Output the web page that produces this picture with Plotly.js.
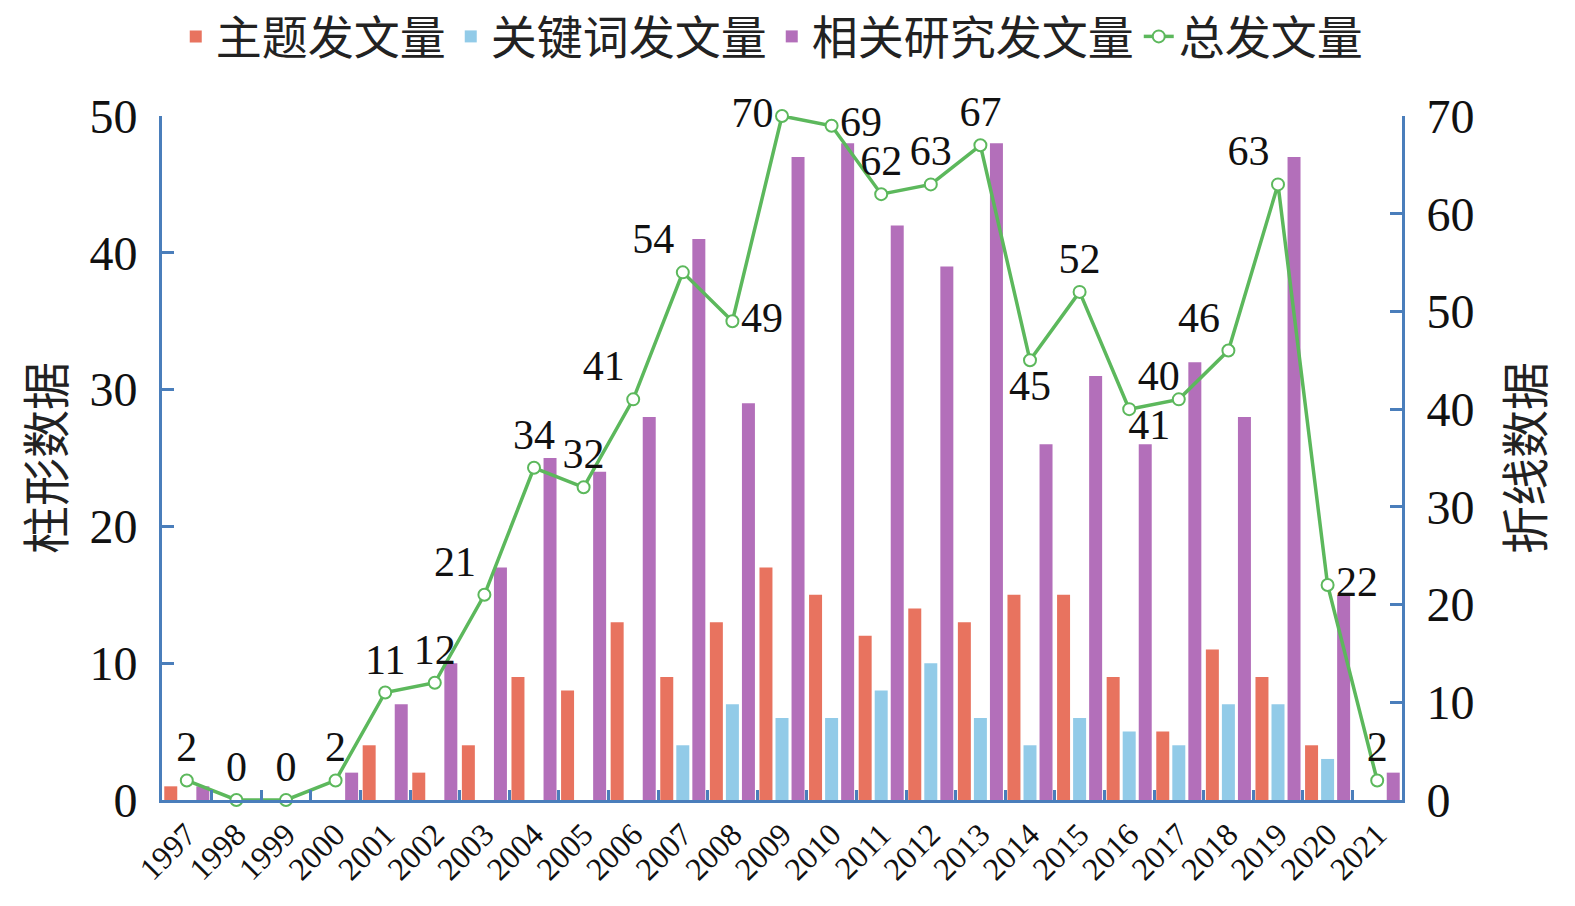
<!DOCTYPE html>
<html>
<head>
<meta charset="utf-8">
<script src="https://cdn.plot.ly/plotly-3.0.1.min.js"></script>
<style>
html, body { margin: 0; padding: 0; background: #fff; }
#chart { width: 1575px; height: 906px; }
</style>
</head>
<body>
<div id="chart"></div>
<script>
var years = ['1997', '1998', '1999', '2000', '2001', '2002', '2003', '2004', '2005', '2006', '2007', '2008', '2009',
  '2010', '2011', '2012', '2013', '2014', '2015', '2016', '2017', '2018', '2019', '2020', '2021'];
var topicCount = [1, 0, 0, 0, 4, 2, 4, 9, 8, 13, 9, 13, 17, 15, 12, 14, 13, 15, 15, 9, 5, 11, 9, 4, 0];
var keywordCount = [0, 0, 0, 0, 0, 0, 0, 0, 0, 0, 4, 7, 6, 6, 8, 10, 6, 4, 6, 5, 4, 7, 7, 3, 0];
var relatedCount = [1, 0, 0, 2, 7, 10, 17, 25, 24, 28, 41, 29, 47, 48, 42, 39, 48, 26, 31, 26, 32, 28, 47, 15, 2];
var totalCount = [2, 0, 0, 2, 11, 12, 21, 34, 32, 41, 54, 49, 70, 69, 62, 63, 67, 45, 52, 40, 41, 46, 63, 22, 2];
var labelPos = ['top center', 'top center', 'top center', 'top center', 'top center', 'top center', 'top left',
  'top center', 'top center', 'top left', 'top left', 'middle right', 'middle left', 'middle right',
  'top center', 'top center', 'top center', 'bottom center', 'top center', 'top right', 'bottom left',
  'top left', 'top left', 'middle right', 'top center'];

var axisColor = '#4a7ebb';
var serif = 'Liberation Serif, Times New Roman, serif';
var cjk = 'Noto Sans CJK SC, sans-serif';

var data = [
  {
    x: years, y: topicCount, type: 'bar', name: '主题发文量',
    marker: {color: '#e8735f'}
  },
  {
    x: years, y: keywordCount, type: 'bar', name: '关键词发文量',
    marker: {color: '#92cbe8'}
  },
  {
    x: years, y: relatedCount, type: 'bar', name: '相关研究发文量',
    marker: {color: '#b36fba'}
  },
  {
    x: years, y: totalCount, type: 'scatter', name: '总发文量', yaxis: 'y2',
    mode: 'lines+markers+text',
    text: totalCount.map(String),
    textposition: labelPos,
    textfont: {family: serif, size: 42, color: '#111'},
    line: {color: '#5cb85c', width: 3.5},
    marker: {symbol: 'circle', size: 12, color: '#fff', line: {color: '#5cb85c', width: 2}},
    cliponaxis: false
  }
];

var layout = {
  width: 1575,
  height: 906,
  margin: {l: 162, r: 173, t: 116, b: 106},
  paper_bgcolor: '#fff',
  plot_bgcolor: '#fff',
  barmode: 'group',
  bargap: 0.03,
  bargroupgap: 0.19,
  showlegend: true,
  legend: {
    orientation: 'h',
    x: 0.49, xref: 'container', xanchor: 'center',
    y: 1, yref: 'container', yanchor: 'top',
    font: {family: cjk, size: 46, color: '#222'},
    itemwidth: 30,
    traceorder: 'normal'
  },
  xaxis: {
    type: 'category',
    range: [-0.5, years.length - 0.5],
    tickangle: -45,
    tickfont: {family: serif, size: 32, color: '#111'},
    showline: true, linecolor: axisColor, linewidth: 3,
    ticks: 'inside', tickson: 'boundaries', ticklen: 10, tickwidth: 3, tickcolor: axisColor,
    showgrid: false, zeroline: false
  },
  yaxis: {
    range: [0, 50], dtick: 10,
    tickfont: {family: serif, size: 48, color: '#111'},
    ticklabelstandoff: 12,
    showline: true, linecolor: axisColor, linewidth: 3,
    ticks: 'inside', ticklen: 12, tickwidth: 3, tickcolor: axisColor,
    showgrid: false, zeroline: false,
    title: {text: '柱形数据', font: {family: cjk, size: 48, color: '#222'}, standoff: 10}
  },
  yaxis2: {
    range: [0, 70], dtick: 10,
    overlaying: 'y', side: 'right',
    tickfont: {family: serif, size: 48, color: '#111'},
    ticklabelstandoff: 12,
    showline: true, linecolor: axisColor, linewidth: 3,
    ticks: 'inside', ticklen: 12, tickwidth: 3, tickcolor: axisColor,
    showgrid: false, zeroline: false,
    title: {text: '折线数据', font: {family: cjk, size: 48, color: '#222'}, standoff: 36}
  }
};

var config = {displayModeBar: false, displaylogo: false};

Plotly.newPlot('chart', data, layout, config);
</script>
</body>
</html>
